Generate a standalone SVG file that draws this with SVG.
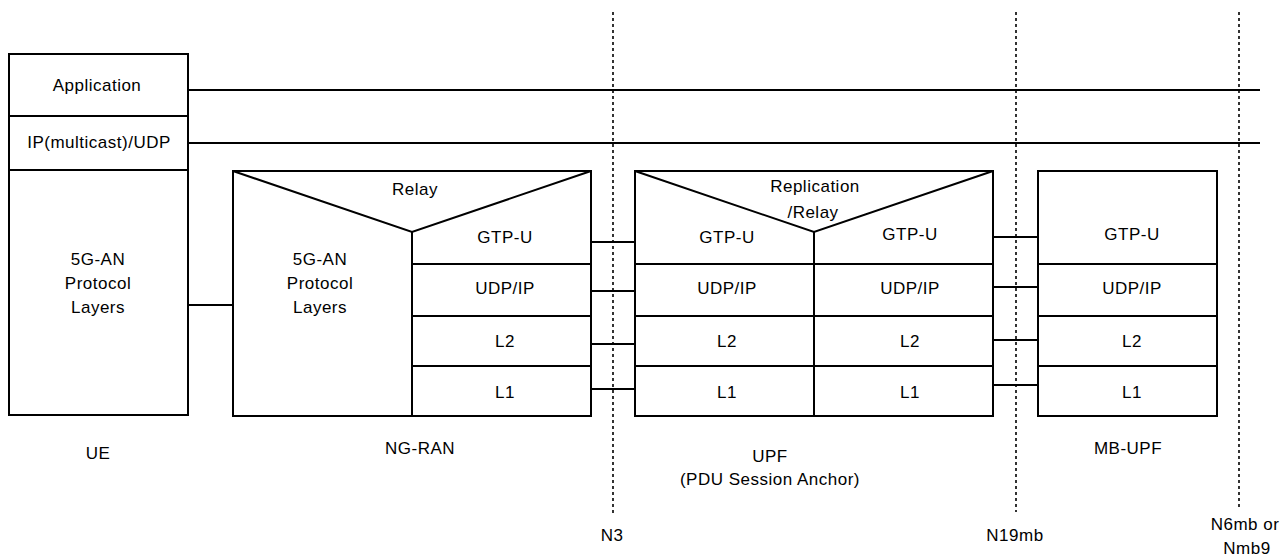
<svg xmlns="http://www.w3.org/2000/svg" width="1288" height="559" viewBox="0 0 1288 559">
<style>
.b{fill:#fff;stroke:#000;stroke-width:2}
.l{fill:none;stroke:#000;stroke-width:2}
.c{fill:none;stroke:#000;stroke-width:1.8}
.d{fill:none;stroke:#000;stroke-width:1.6;stroke-dasharray:3,3}
text{font-family:"Liberation Sans",Arial,sans-serif;font-size:17px;fill:#000;text-anchor:middle;letter-spacing:0.5px}
</style>
<rect width="1288" height="559" fill="#fff"/>
<g id="reference-points">
<line class="d" x1="613" y1="12" x2="613" y2="515"/>
<line class="d" x1="1016" y1="12" x2="1016" y2="512"/>
<line class="d" x1="1239" y1="12" x2="1239" y2="510"/>
<text x="612" y="541">N3</text>
<text x="1015" y="541">N19mb</text>
<text x="1245" y="530">N6mb or</text>
<text x="1247" y="554">Nmb9</text>
</g>
<g id="connectors">
<line class="c" x1="188" y1="90" x2="1260" y2="90"/>
<line class="c" x1="188" y1="143" x2="1260" y2="143"/>
<line class="c" x1="188" y1="305" x2="233" y2="305"/>
<line class="c" x1="591" y1="242" x2="635" y2="242"/>
<line class="c" x1="591" y1="291" x2="635" y2="291"/>
<line class="c" x1="591" y1="344" x2="635" y2="344"/>
<line class="c" x1="591" y1="389" x2="635" y2="389"/>
<line class="c" x1="993" y1="237" x2="1038" y2="237"/>
<line class="c" x1="993" y1="287" x2="1038" y2="287"/>
<line class="c" x1="993" y1="340" x2="1038" y2="340"/>
<line class="c" x1="993" y1="385" x2="1038" y2="385"/>
</g>
<g id="ue">
<rect class="b" x="9" y="54" width="179" height="361"/>
<line class="l" x1="9" y1="116" x2="188" y2="116"/>
<line class="l" x1="9" y1="170" x2="188" y2="170"/>
<text x="97" y="91">Application</text>
<text x="99" y="148">IP(multicast)/UDP</text>
<text x="98" y="265">5G-AN</text>
<text x="98" y="289">Protocol</text>
<text x="98" y="313">Layers</text>
<text x="98" y="459">UE</text>
</g>
<g id="ng-ran">
<rect class="b" x="233" y="171" width="358" height="245"/>
<polyline class="l" points="233,171 412,232 591,171"/>
<line class="l" x1="412" y1="232" x2="412" y2="416"/>
<line class="l" x1="412" y1="264" x2="591" y2="264"/>
<line class="l" x1="412" y1="316" x2="591" y2="316"/>
<line class="l" x1="412" y1="366" x2="591" y2="366"/>
<text x="415" y="195">Relay</text>
<text x="320" y="265">5G-AN</text>
<text x="320" y="289">Protocol</text>
<text x="320" y="313">Layers</text>
<text x="505" y="243">GTP-U</text>
<text x="505" y="294">UDP/IP</text>
<text x="505" y="347">L2</text>
<text x="505" y="398">L1</text>
<text x="420" y="454">NG-RAN</text>
</g>
<g id="upf">
<rect class="b" x="635" y="171" width="358" height="245"/>
<polyline class="l" points="635,171 814,232 993,171"/>
<line class="l" x1="814" y1="232" x2="814" y2="416"/>
<line class="l" x1="635" y1="264" x2="993" y2="264"/>
<line class="l" x1="635" y1="316" x2="993" y2="316"/>
<line class="l" x1="635" y1="366" x2="993" y2="366"/>
<text x="815" y="192">Replication</text>
<text x="813" y="218">/Relay</text>
<text x="727" y="243">GTP-U</text>
<text x="910" y="240">GTP-U</text>
<text x="727" y="294">UDP/IP</text>
<text x="910" y="294">UDP/IP</text>
<text x="727" y="347">L2</text>
<text x="910" y="347">L2</text>
<text x="727" y="398">L1</text>
<text x="910" y="398">L1</text>
<text x="770" y="462">UPF</text>
<text x="770" y="485">(PDU Session Anchor)</text>
</g>
<g id="mb-upf">
<rect class="b" x="1038" y="171" width="179" height="245"/>
<line class="l" x1="1038" y1="264" x2="1217" y2="264"/>
<line class="l" x1="1038" y1="316" x2="1217" y2="316"/>
<line class="l" x1="1038" y1="366" x2="1217" y2="366"/>
<text x="1132" y="240">GTP-U</text>
<text x="1132" y="294">UDP/IP</text>
<text x="1132" y="347">L2</text>
<text x="1132" y="398">L1</text>
<text x="1128" y="454">MB-UPF</text>
</g>
</svg>
